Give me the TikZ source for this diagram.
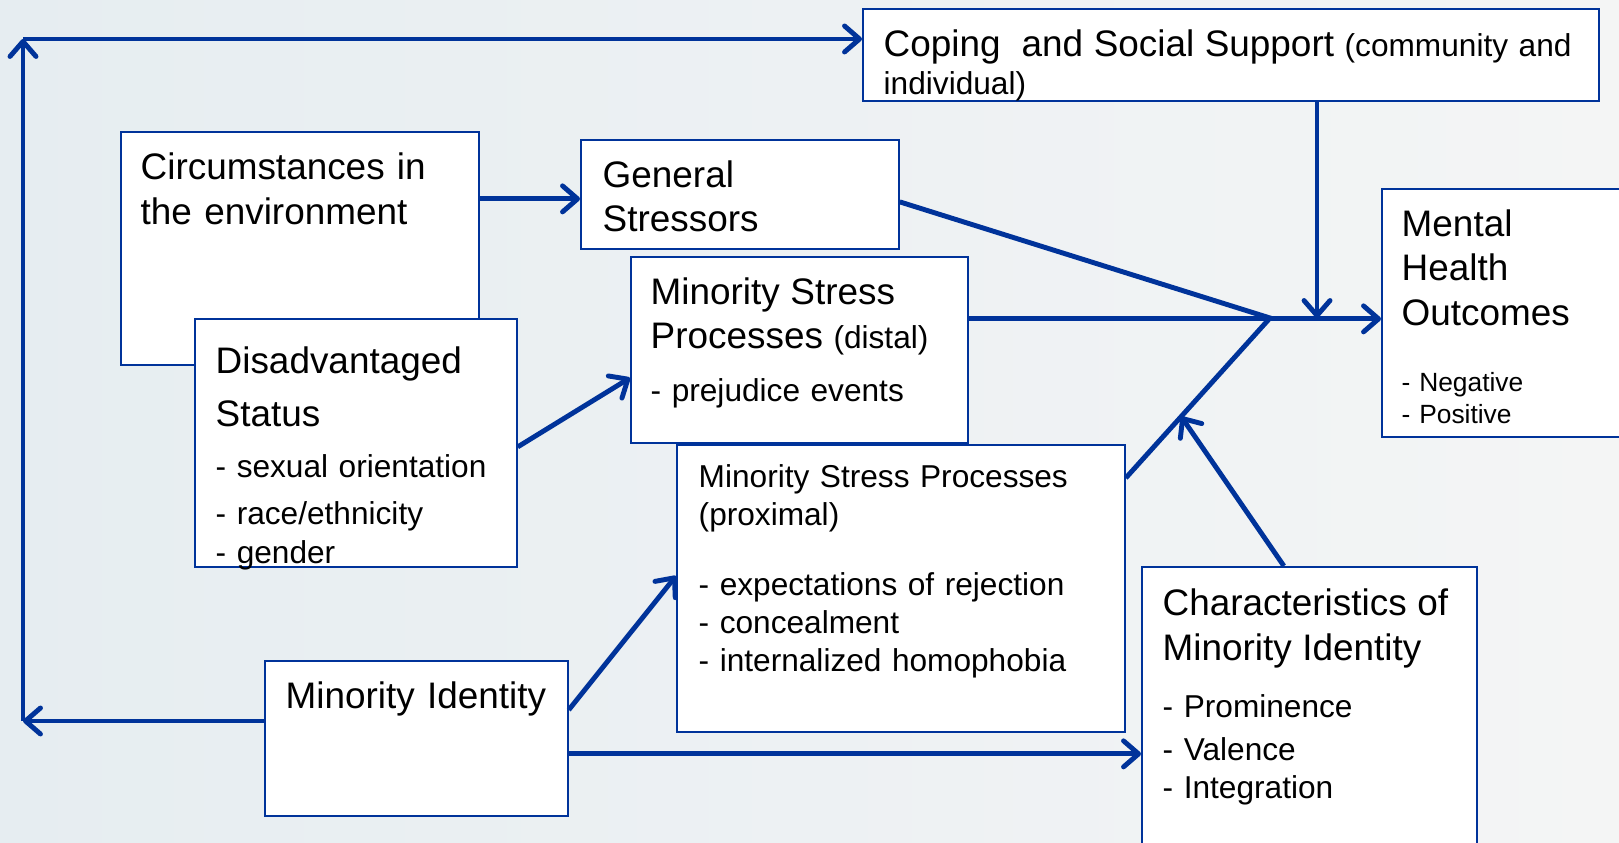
\documentclass[tikz,border=0pt]{standalone}
\usepackage{fontspec}
\setmainfont{Liberation Sans}
\usepackage{tikz}
\usetikzlibrary{positioning,arrows.meta}
\definecolor{lineblue}{HTML}{00339A}
\definecolor{bgleft}{HTML}{E6EDF1}
\definecolor{bgright}{HTML}{F4F5F5}
\newcommand{\lgtxt}{\fontsize{10.5}{12.6}\selectfont}
\newcommand{\smtxt}{\fontsize{9}{10.8}\selectfont}
\newcommand{\lgskip}[1]{\fontsize{10.5}{#1}\selectfont}
\newcommand{\smskip}[1]{\fontsize{9}{#1}\selectfont}
\newcommand{\tnskip}[1]{\fontsize{7.5}{#1}\selectfont}

\begin{document}
\begin{tikzpicture}[
  x=0.1mm, y=-0.1mm,
  box/.style={draw=lineblue, fill=white, line width=0.5pt, anchor=north west, inner sep=0pt},
  txt/.style={inner sep=0pt, align=left, font=\lgtxt},
  ln/.style={draw=lineblue, line width=1.4pt},
  arr/.style={ln, -{Straight Barb[length=1.5mm,width=2.6mm,round]}}
]
\useasboundingbox (0,0) rectangle (1619,843);
\clip (0,0) rectangle (1619,843);
\shade[left color=bgleft, right color=bgright] (0,0) rectangle (1619,843);

\node[box, minimum width=73.6mm, minimum height=9.2mm] (cop) at (862,8) {};
\node[box, minimum width=35.8mm, minimum height=23.3mm] (circ) at (120,131) {};
\node[box, minimum width=31.8mm, minimum height=10.9mm] (gen) at (580,139) {};
\node[box, minimum width=25mm, minimum height=24.8mm] (ment) at (1381,188) {};
\node[box, minimum width=33.7mm, minimum height=18.6mm] (dist) at (630,256) {};
\node[box, minimum width=32.2mm, minimum height=24.8mm] (disad) at (194,318) {};
\node[box, minimum width=44.8mm, minimum height=28.7mm] (prox) at (676,444) {};
\node[box, minimum width=30.3mm, minimum height=15.5mm] (mid) at (264,660) {};
\node[box, minimum width=33.5mm, minimum height=30mm] (char) at (1141,566) {};

\node[txt, text width=70mm, below right=2.1mm and 2.1mm of cop.north west, font=\smskip{10.9}] (cop-t)
  {\lgskip{10.9}Coping~ and Social Support {\smtxt(community and}\\\smtxt individual)};
\node[txt, text width=32mm, below right=2.1mm and 2.0mm of circ.north west, font=\lgskip{12.9}] (circ-t)
  {Circumstances in\\the environment};
\node[txt, text width=27mm, below right=2.1mm and 2.2mm of gen.north west] (gen-t) {General\\Stressors};
\node[txt, text width=22mm, below right=2.1mm and 2.0mm of ment.north west, font=\tnskip{9.1}] (ment-t)
  {\lgtxt Mental\\Health\\Outcomes\\\tnskip{18.8}- Negative\\- Positive};
\node[txt, text width=30mm, below right=2.1mm and 2.0mm of dist.north west, font=\smskip{15}] (dist-t)
  {\lgtxt Minority Stress\\Processes {\smtxt(distal)}\\\smtxt- prejudice events};
\node[txt, text width=29mm, below right=2.8mm and 2.1mm of disad.north west, font=\smskip{11.1}] (disad-t)
  {\lgskip{15.2}Disadvantaged\\Status\\\smskip{14.4}- sexual orientation\\\smskip{13.5}- race/ethnicity\\- gender};
\node[txt, text width=40mm, below right=2.0mm and 2.2mm of prox.north west, font=\smtxt] (prox-t)
  {Minority Stress Processes\\(proximal)\\[9.1pt]- expectations of rejection\\- concealment\\- internalized homophobia};
\node[txt, text width=28mm, below right=2.1mm and 2.1mm of mid.north west] (mid-t) {Minority Identity};
\node[txt, text width=30mm, below right=2.2mm and 2.1mm of char.north west, font=\smskip{10.8}] (char-t)
  {\lgskip{12.9}Characteristics of\\Minority Identity\\\smskip{16.1}- Prominence\\\smskip{12.3}- Valence\\- Integration};

\coordinate (lb) at (23,721);
\coordinate (lt) at (23,39);
\coordinate (jn) at (1270,318);
\coordinate (cd) at (1317,318);
\coordinate (cg) at ([yshift=-0.45mm]gen.west);
\coordinate (dt) at ([yshift=-2.8mm]dist.west);
\coordinate (pt) at ([yshift=1.25mm]prox.west);
\coordinate (gs) at ([yshift=-0.75mm]gen.east);
\coordinate (ds) at ([yshift=3.1mm]dist.east);
\coordinate (ps) at ([yshift=-3.4mm]prox.north east);

\draw[arr] (mid.west |- lb) -- (lb);
\draw[arr] (lb) -- (lt);
\draw[arr] (lt) -- (lt -| cop.west);
\draw[arr] (circ.east |- cg) -- (cg);
\draw[arr] ([yshift=-0.4mm]disad.east) -- (dt);
\draw[arr] ([yshift=2.85mm]mid.east) -- (pt);
\draw[arr] ([yshift=-1.55mm]mid.east) -- ([yshift=-1.55mm]mid.east -| char.west);
\draw[arr] (ds) -- (ds -| ment.west);
\draw[ln] (gs) -- (jn) -- (ps);
\draw[arr] (cop.south -| cd) -- (cd);
\path (ps) -- (jn) coordinate[pos=0.384] (ci);
\draw[arr] ([xshift=-2.55mm]char.north) -- (ci);
\end{tikzpicture}
\end{document}
